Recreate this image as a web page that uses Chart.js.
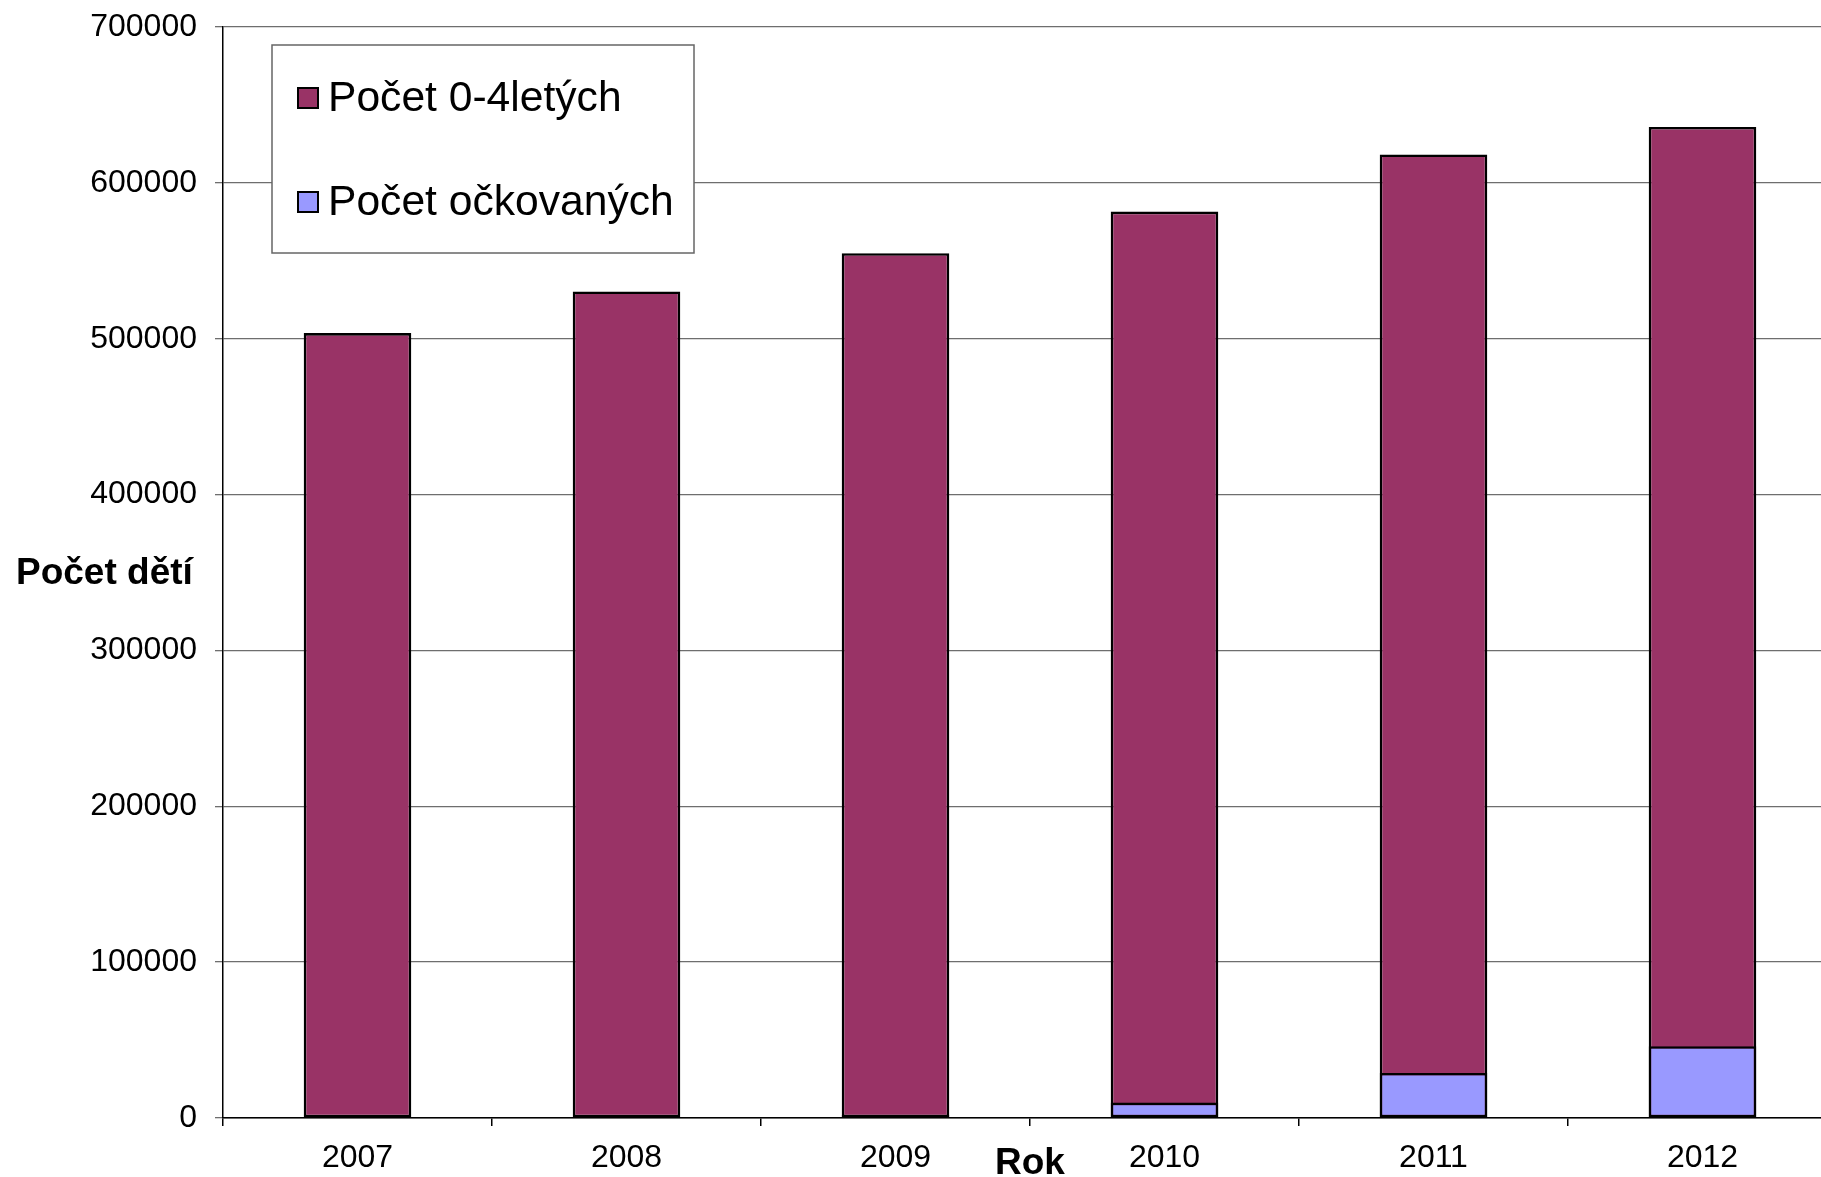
<!DOCTYPE html>
<html>
<head>
<meta charset="utf-8">
<script src="https://cdn.jsdelivr.net/npm/chart.js@4.4.1/dist/chart.umd.min.js"></script>
<style>
  html, body { margin: 0; padding: 0; background: #fff; overflow: hidden; }
  canvas { display: block; }
</style>
</head>
<body>
<canvas id="detiChart" width="1840" height="1177"></canvas>
<script>
const roky = ["2007", "2008", "2009", "2010", "2011", "2012"];
const pocetDeti = [503600, 530300, 554900, 581600, 618200, 635900];
const pocetOckovanych = [0, 500, 2100, 9900, 28900, 46100];
const yTicky = [0, 100000, 200000, 300000, 400000, 500000, 600000, 700000];

const barvy = ["#993366", "#9999FF"];
const font = '"Liberation Sans", Arial, sans-serif';

// legenda v rameckem + popisky os (vodorovne)
const popisky = {
  id: "popisky",
  afterDraw(chart) {
    const ctx = chart.ctx;
    ctx.save();
    // ramecek legendy
    ctx.fillStyle = "#fff";
    ctx.fillRect(272, 45, 422, 208);
    ctx.strokeStyle = "#666";
    ctx.lineWidth = 1.5;
    ctx.strokeRect(272, 45, 422, 208);
    const rows = [98, 202];
    chart.data.datasets.forEach((ds, i) => {
      ctx.fillStyle = ds.backgroundColor;
      ctx.fillRect(298, rows[i] - 10, 20, 20);
      ctx.strokeStyle = "#000";
      ctx.lineWidth = 2;
      ctx.strokeRect(298, rows[i] - 10, 20, 20);
      ctx.fillStyle = "#000";
      ctx.font = "42.6px " + font;
      ctx.textBaseline = "middle";
      ctx.textAlign = "left";
      ctx.fillText(ds.label, 328, rows[i] + 1);
    });
    // nazvy os
    ctx.font = "bold 37px " + font;
    ctx.fillStyle = "#000";
    ctx.textBaseline = "middle";
    ctx.textAlign = "left";
    ctx.fillText("Počet dětí", 16, 574);
    ctx.textAlign = "center";
    ctx.fillText("Rok", 1030, 1164);
    ctx.restore();
  }
};

new Chart(document.getElementById("detiChart"), {
  type: "bar",
  data: {
    labels: roky,
    datasets: [
      {
        label: "Počet 0-4letých",
        data: pocetDeti,
        backgroundColor: barvy[0],
        borderColor: "#000",
        borderWidth: 2.6,
        borderSkipped: false,
        order: 1
      },
      {
        label: "Počet očkovaných",
        data: pocetOckovanych,
        backgroundColor: barvy[1],
        borderColor: "#000",
        borderWidth: 2.6,
        borderSkipped: false,
        order: 0
      }
    ]
  },
  options: {
    responsive: false,
    animation: false,
    devicePixelRatio: 1,
    layout: { padding: { top: 27, right: 3, left: 0, bottom: 0 } },
    datasets: {
      bar: { categoryPercentage: 1, barPercentage: 0.4 }
    },
    scales: {
      x: {
        stacked: true,
        afterFit(scale) {
          scale.height = 59;
          scale.paddingLeft = 0;
          scale.paddingRight = 0;
        },
        grid: {
          display: true,
          drawOnChartArea: false,
          drawTicks: true,
          tickLength: 8,
          color: "#000",
          lineWidth: 1.5
        },
        border: { display: true, color: "#000", width: 1.5 },
        ticks: {
          color: "#000",
          font: { family: font, size: 32 },
          padding: 13,
          maxRotation: 0
        }
      },
      y: {
        stacked: false,
        min: 0,
        max: 700000,
        afterFit(scale) {
          scale.width = 223;
          scale.paddingTop = 0;
          scale.paddingBottom = 0;
        },
        afterBuildTicks(scale) {
          scale.ticks = yTicky.map(v => ({ value: v }));
        },
        grid: {
          color: "#6e6e6e",
          lineWidth: 1.3,
          tickLength: 8,
          drawTicks: true
        },
        border: { display: true, color: "#000", width: 1.5 },
        ticks: {
          color: "#000",
          font: { family: font, size: 32 },
          padding: 18,
          callback: v => String(v)
        }
      }
    },
    plugins: {
      legend: { display: false },
      tooltip: { enabled: false },
      title: { display: false }
    }
  },
  plugins: [popisky]
});
</script>
</body>
</html>
